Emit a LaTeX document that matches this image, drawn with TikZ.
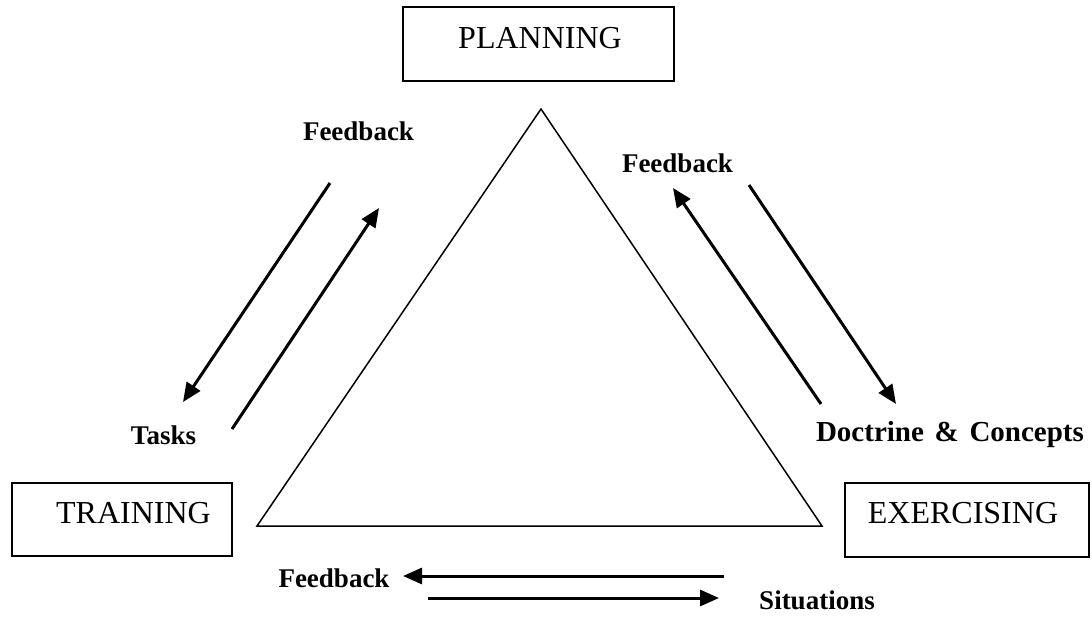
\documentclass[tikz,border=0pt]{standalone}
\usepackage{fontspec}
\setmainfont{Liberation Serif}
\usetikzlibrary{arrows.meta}
\begin{document}
\begin{tikzpicture}[x=1pt,y=-1pt,
  boxshape/.style={draw, line width=1.6pt, inner sep=0pt},
  boxtext/.style={inner sep=0pt, font=\fontsize{32}{36}\selectfont},
  lbl/.style={inner sep=0pt, font=\fontsize{27}{30}\selectfont\bfseries},
  arr/.style={line width=3pt, -{Triangle[length=19pt,width=16pt]}},
  tri/.style={line width=1.5pt, line join=miter}
]
\useasboundingbox (0,0) rectangle (1092,640);
% boxes
\node[boxshape, minimum width=271pt, minimum height=74pt] (planbox) at (538.5,44) {};
\node[boxtext] (plan) at (540,38) {PLANNING};
\node[boxshape, minimum width=220pt, minimum height=73pt] (trainbox) at (122,519.5) {};
\node[boxtext] (train) at (133.5,513) {TRAINING};
\node[boxshape, minimum width=244pt, minimum height=74pt] (exbox) at (967,520) {};
\node[boxtext] (ex) at (963,513) {EXERCISING};
% triangle
\coordinate (apex) at (541,109);
\coordinate (bl) at (257,526);
\coordinate (br) at (822,526);
\draw[tri] (apex) -- (bl) -- (br) -- cycle;
% left arrows
\coordinate (l1s) at (330,183);
\coordinate (l1e) at (183,402);
\coordinate (l2s) at (232,429);
\coordinate (l2e) at (379,208);
\draw[arr] (l1s) -- (l1e);
\draw[arr] (l2s) -- (l2e);
% right arrows
\coordinate (r1s) at (821,404);
\coordinate (r1e) at (673,188);
\coordinate (r2s) at (749,185);
\coordinate (r2e) at (896,404);
\draw[arr] (r1s) -- (r1e);
\draw[arr] (r2s) -- (r2e);
% bottom arrows
\coordinate (b1s) at (724,576);
\coordinate (b1e) at (403,576);
\coordinate (b2s) at (428,598);
\coordinate (b2e) at (719,598);
\draw[arr] (b1s) -- (b1e);
\draw[arr] (b2s) -- (b2e);
% labels
\node[lbl] (fbtl) at (358.5,131) {Feedback};
\node[lbl] (fbtr) at (677.5,163) {Feedback};
\node[lbl] (tasks) at (163.5,435) {Tasks};
\node[lbl, font=\fontsize{29}{32}\selectfont\bfseries] (doct) at (950,435) {Doctrine\hspace{0.12em} \&\hspace{0.12em} Concepts};
\node[lbl] (fbb) at (334,578) {Feedback};
\node[lbl] (sit) at (817,600) {Situations};
\end{tikzpicture}
\end{document}
